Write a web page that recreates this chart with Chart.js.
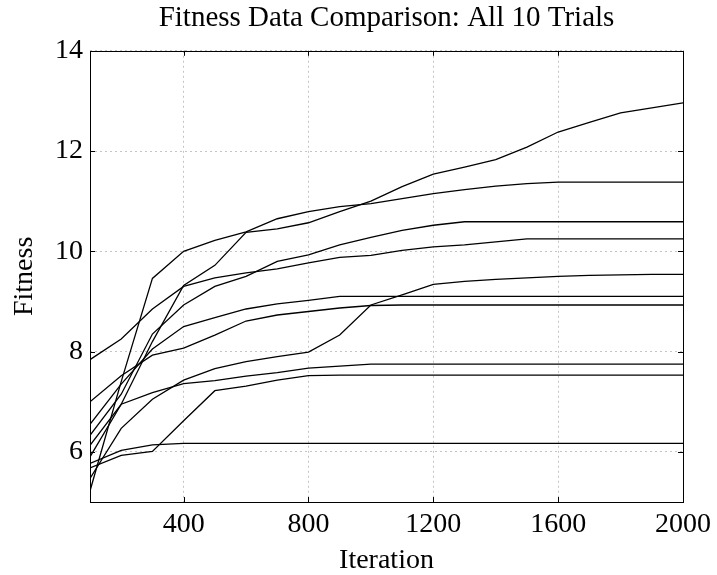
<!DOCTYPE html>
<html>
<head>
<meta charset="utf-8">
<script src="https://cdn.jsdelivr.net/npm/chart.js@4/dist/chart.umd.min.js"></script>
<style>
  html, body { margin: 0; padding: 0; background: #fff; }
</style>
</head>
<body>
<canvas id="fitnessChart" width="717" height="575"></canvas>
<script>
// x values (iteration) and tick labels
const iterations = [100, 200, 300, 400, 500, 600, 700, 800, 900, 1000,
  1100, 1200, 1300, 1400, 1500, 1600, 1700, 1800, 1900, 2000];
const xTicks = [400, 800, 1200, 1600, 2000];
const yTicks = [6, 8, 10, 12, 14];

// fitness per trial
const trial1 = [5.90, 6.95, 8.20, 9.32, 9.72, 10.38, 10.45, 10.57, 10.79, 11.00,
  11.29, 11.54, 11.68, 11.83, 12.08, 12.38, 12.57, 12.76, 12.86, 12.96];
const trial2 = [5.22, 7.40, 9.46, 10.00, 10.22, 10.39, 10.65, 10.79, 10.89, 10.95,
  11.05, 11.15, 11.23, 11.30, 11.35, 11.38, 11.38, 11.38, 11.38, 11.38];
const trial3 = [6.33, 7.15, 8.35, 8.93, 9.30, 9.50, 9.80, 9.93, 10.13, 10.28,
  10.42, 10.52, 10.59, 10.59, 10.59, 10.59, 10.59, 10.59, 10.59, 10.59];
const trial4 = [7.84, 8.25, 8.85, 9.30, 9.47, 9.57, 9.65, 9.77, 9.88, 9.92,
  10.02, 10.09, 10.13, 10.19, 10.25, 10.25, 10.25, 10.25, 10.25, 10.25];
const trial5 = [5.47, 6.47, 7.05, 7.43, 7.66, 7.80, 7.90, 7.99, 8.33, 8.93,
  9.13, 9.34, 9.40, 9.44, 9.47, 9.50, 9.52, 9.53, 9.54, 9.54];
const trial6 = [6.55, 7.35, 8.05, 8.50, 8.68, 8.85, 8.95, 9.02, 9.10, 9.10,
  9.10, 9.10, 9.10, 9.10, 9.10, 9.10, 9.10, 9.10, 9.10, 9.10];
const trial7 = [7.00, 7.52, 7.93, 8.07, 8.33, 8.61, 8.73, 8.80, 8.87, 8.92,
  8.93, 8.93, 8.93, 8.93, 8.93, 8.93, 8.93, 8.93, 8.93, 8.93];
const trial8 = [6.13, 6.95, 7.18, 7.36, 7.42, 7.51, 7.58, 7.67, 7.71, 7.75,
  7.75, 7.75, 7.75, 7.75, 7.75, 7.75, 7.75, 7.75, 7.75, 7.75];
const trial9 = [5.68, 5.93, 6.01, 6.62, 7.22, 7.31, 7.43, 7.52, 7.53, 7.53,
  7.53, 7.53, 7.53, 7.53, 7.53, 7.53, 7.53, 7.53, 7.53, 7.53];
const trial10 = [5.77, 6.03, 6.14, 6.17, 6.17, 6.17, 6.17, 6.17, 6.17, 6.17,
  6.17, 6.17, 6.17, 6.17, 6.17, 6.17, 6.17, 6.17, 6.17, 6.17];

const trials = [trial1, trial2, trial3, trial4, trial5, trial6, trial7, trial8, trial9, trial10];
const serif = '"Liberation Serif", "Times New Roman", serif';

// box round the plot with inward tick marks, matlab style
const framePlugin = {
  id: "frame",
  afterDraw(chart) {
    const { ctx, chartArea: a, scales } = chart;
    const tl = 5;
    ctx.save();
    ctx.strokeStyle = "#000";
    ctx.lineWidth = 1;
    ctx.strokeRect(Math.round(a.left) + 0.5, Math.round(a.top) + 0.5,
      Math.round(a.right - a.left), Math.round(a.bottom - a.top));
    ctx.beginPath();
    xTicks.forEach(function (v) {
      const x = Math.round(scales.x.getPixelForValue(v)) + 0.5;
      ctx.moveTo(x, a.bottom); ctx.lineTo(x, a.bottom - tl);
      ctx.moveTo(x, a.top); ctx.lineTo(x, a.top + tl);
    });
    yTicks.forEach(function (v) {
      const y = Math.round(scales.y.getPixelForValue(v)) + 0.5;
      ctx.moveTo(a.left, y); ctx.lineTo(a.left + tl, y);
      ctx.moveTo(a.right, y); ctx.lineTo(a.right - tl, y);
    });
    ctx.stroke();
    ctx.restore();
  }
};

const datasets = trials.map(function (vals, i) {
  return {
    label: "Trial " + (i + 1),
    data: iterations.map(function (it, j) { return { x: it, y: vals[j] }; }),
    borderColor: "#000",
    borderWidth: 1.3,
    pointRadius: 0,
    tension: 0,
    fill: false
  };
});

new Chart(document.getElementById("fitnessChart"), {
  type: "line",
  data: { datasets: datasets },
  options: {
    responsive: false,
    animation: false,
    layout: { padding: { left: 0, right: 32, top: 0, bottom: 0 } },
    plugins: {
      legend: { display: false },
      tooltip: { enabled: false },
      title: {
        display: true,
        fullSize: false,
        text: "Fitness Data Comparison: All 10 Trials",
        color: "#000",
        font: { family: serif, size: 29, weight: "normal" },
        padding: { top: 1, bottom: 15 }
      }
    },
    scales: {
      x: {
        type: "linear",
        min: 100,
        max: 2000,
        afterBuildTicks: function (s) { s.ticks = xTicks.map(function (v) { return { value: v }; }); },
        afterFit: function (s) { s.height = 73; },
        ticks: {
          color: "#000", font: { family: serif, size: 28 }, padding: 6, maxRotation: 0,
          callback: function (v) { return String(v); }
        },
        grid: { color: "#c4c4c4", lineWidth: 1, drawTicks: false },
        border: { display: false, dash: [2, 3] },
        title: {
          display: true, text: "Iteration", color: "#000",
          font: { family: serif, size: 28, lineHeight: 1 },
          padding: { top: 0, bottom: 0 }
        }
      },
      y: {
        min: 5,
        max: 14,
        afterBuildTicks: function (s) { s.ticks = yTicks.map(function (v) { return { value: v }; }); },
        afterFit: function (s) { s.width = 90; },
        ticks: {
          color: "#000", font: { family: serif, size: 28 }, padding: 7,
          callback: function (v) { return String(v); }
        },
        grid: { color: "#c4c4c4", lineWidth: 1, drawTicks: false },
        border: { display: false, dash: [2, 3] },
        title: {
          display: true, text: "Fitness", color: "#000",
          font: { family: serif, size: 28, lineHeight: 1 },
          padding: { top: 11, bottom: 0 }
        }
      }
    }
  },
  plugins: [framePlugin]
});
</script>
</body>
</html>
